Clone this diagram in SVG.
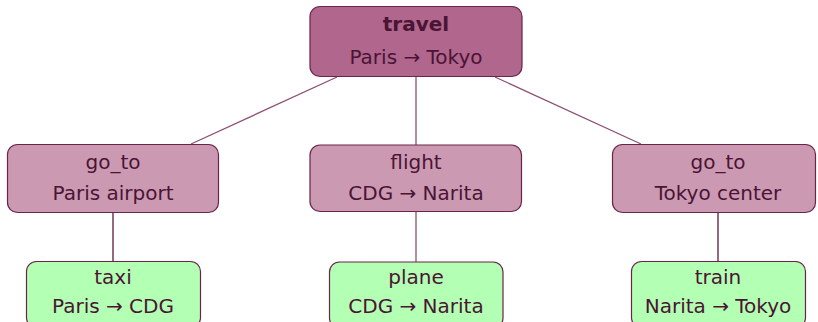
<svg xmlns="http://www.w3.org/2000/svg" width="818" height="322" viewBox="0 0 818 322">
<style>
.t{font-family:"DejaVu Sans","Liberation Sans",sans-serif;font-size:20px;fill:#4a1434;text-anchor:middle}
.b{font-weight:bold}
.root{fill:#b0668d;stroke:#6a2448;stroke-width:1.2}
.mid{fill:#cc99b3;stroke:#6a2448;stroke-width:1.2}
.leaf{fill:#b3ffb3;stroke:#6a2448;stroke-width:1.2}
.e{stroke:#8e4f71;stroke-width:1.3;fill:none}
.v{stroke:#5a1a3c;stroke-width:1.3;fill:none}
</style>
<rect width="818" height="322" fill="#fff"/>
<g id="connectors">
<line class="e" x1="337" y1="77" x2="191" y2="144"/>
<line class="e" x1="416" y1="76" x2="416" y2="145"/>
<line class="e" x1="495" y1="77" x2="641" y2="144"/>
<line class="v" x1="113" y1="213" x2="113" y2="261"/>
<line class="e" x1="416" y1="212" x2="416" y2="262"/>
<line class="v" x1="718" y1="213" x2="718" y2="261"/>
</g>
<g id="travel">
<rect class="root" x="310" y="6.5" width="212" height="70" rx="10"/>
<text class="t b" x="416" y="31">travel</text>
<text class="t" x="416" y="64">Paris → Tokyo</text>
</g>
<g id="goto_paris">
<rect class="mid" x="7.5" y="144.5" width="211" height="68" rx="10"/>
<text class="t" x="113" y="169">go_to</text>
<text class="t" x="113" y="200">Paris airport</text>
</g>
<g id="flight">
<rect class="mid" x="310" y="145" width="211.5" height="66.5" rx="10"/>
<text class="t" x="416" y="169">flight</text>
<text class="t" x="416" y="200">CDG → Narita</text>
</g>
<g id="goto_tokyo">
<rect class="mid" x="612.5" y="144.5" width="203" height="68" rx="10"/>
<text class="t" x="718" y="169">go_to</text>
<text class="t" x="718" y="200">Tokyo center</text>
</g>
<g id="taxi">
<rect class="leaf" x="26.5" y="261.5" width="174" height="66" rx="10"/>
<text class="t" x="113" y="284">taxi</text>
<text class="t" x="113" y="313">Paris → CDG</text>
</g>
<g id="plane">
<rect class="leaf" x="329.5" y="262" width="173.5" height="66" rx="10"/>
<text class="t" x="416" y="284">plane</text>
<text class="t" x="416" y="313">CDG → Narita</text>
</g>
<g id="train">
<rect class="leaf" x="631.5" y="261.5" width="174" height="66" rx="10"/>
<text class="t" x="718" y="284">train</text>
<text class="t" x="718" y="313">Narita → Tokyo</text>
</g>
</svg>
